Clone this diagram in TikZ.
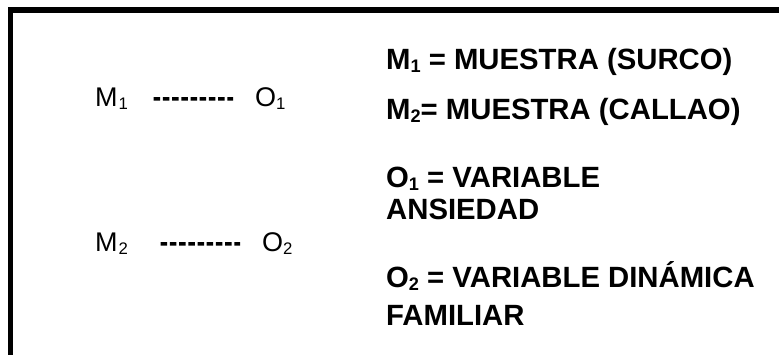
\documentclass[tikz,border=0pt]{standalone}
\usepackage{fontspec}
\setmainfont{Liberation Sans}
\usepackage{tikz}
\usetikzlibrary{positioning}

% small lowered index, as in M1, O2
\newcommand{\lowidx}[1]{\raisebox{-0.09em}{\scalebox{0.62}{#1}}}

\begin{document}
\begin{tikzpicture}
      [x=1pt,y=-1pt,line cap=butt,line join=miter,
       sample/.style={inner sep=0pt,anchor=base west,font=\fontsize{27}{30}\selectfont},
       legend/.style={inner sep=0pt,anchor=base west,font=\fontsize{29.3}{34}\selectfont\bfseries},
       dashline/.style={line width=3.4pt,dash pattern=on 6.5pt off 2.7pt},
       frame/.style={line width=5.5pt}]%main layer

\useasboundingbox (0,0) rectangle (779,355);

%open frame, top and left side only
  \draw[frame] (10.5,355) -- (10.5,10) -- (779,10);

%samples and observations
  \node[sample] (m1) at (95,107) {M\kern1pt\lowidx{1}};
  \node[sample] (o1) at (255,107) {O\lowidx{1}};
  \node[sample] (m2) at (95,252) {M\kern1pt\lowidx{2}};
  \node[sample] (o2) at (262,252) {O\lowidx{2}};

  \draw[dashline,shorten <=25.5pt,shorten >=22pt] (m1.east) -- (o1.west);
  \draw[dashline,shorten <=32.5pt,shorten >=22pt] (m2.east) -- (o2.west);

%legend
  \node[legend] (l1) at (386,70) {M\lowidx{1} = MUESTRA (SURCO)};
  \node[legend] (l2) at (386,120) {M\lowidx{2}= MUESTRA (CALLAO)};
  \node[legend] (l3) at (386,188) {O\lowidx{1} = VARIABLE};
  \node[legend] (l4) at (386,220) {ANSIEDAD};
  \node[legend] (l5) at (386,288) {O\lowidx{2} = VARIABLE DINÁMICA};
  \node[legend] (l6) at (386,326) {FAMILIAR};

\end{tikzpicture}
\end{document}
